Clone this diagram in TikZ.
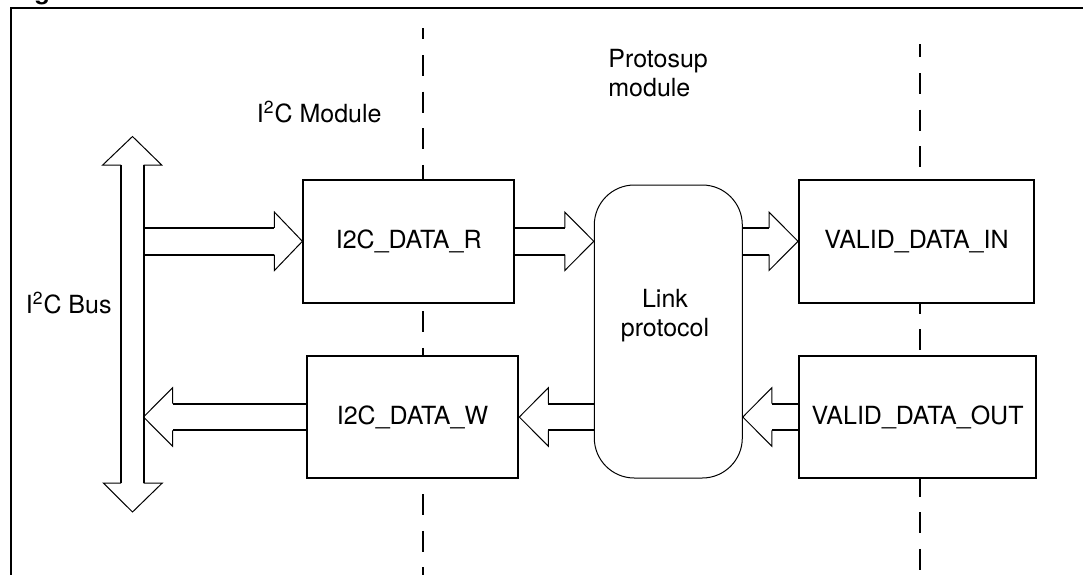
\documentclass[tikz,border=0pt]{standalone}
\usepackage{fontspec}
\setmainfont{TeX Gyre Heros}
\usetikzlibrary{calc}
\tikzset{
  box/.style={draw, line width=1pt, fill=white, inner sep=0pt},
  link/.style={draw, line width=0.5pt, fill=white, rounded corners=20pt, inner sep=0pt},
  lbl/.style={font=\fontsize{12.5}{14.6}\selectfont, inner sep=0pt},
  shaft/.style={line width=1pt},
  head/.style={line width=0.5pt, line join=miter},
  divider/.style={line width=1pt, dash pattern=on 10.5pt off 7.8pt},
  frame/.style={line width=1pt},
}
% horizontal fat arrow: #1 start point, #2 tip point, #3 signed head length
\newcommand\fatarrow[3]{%
  \draw[shaft] let \p1=#1, \p2=#2 in
    ({\x1},{\y2+6.7pt}) -- ({\x2-(#3)},{\y2+6.7pt})
    ({\x1},{\y2-6.7pt}) -- ({\x2-(#3)},{\y2-6.7pt});
  \draw[head] let \p2=#2 in
    ({\x2-(#3)},{\y2+6.7pt}) -- ({\x2-(#3)},{\y2+14.6pt}) -- (\p2)
    -- ({\x2-(#3)},{\y2-14.6pt}) -- ({\x2-(#3)},{\y2-6.7pt});
}
\begin{document}
\begin{tikzpicture}[x=0.5pt,y=-0.5pt]
\useasboundingbox (0,0) rectangle (1083,574);
\clip (0,0) rectangle (1083,574);
% caption fragment and frame
\node[lbl, font=\fontsize{12.5}{12}\selectfont\bfseries, anchor=base west] (cap) at (12,-1) {Figure};
\draw[frame] (10.5,590) -- (10.5,8.3) -- (1100,8.3);
% dividers
\coordinate (d1t) at (422.7,28);
\coordinate (d1b) at (422.7,590);
\coordinate (d2t) at (920,44);
\coordinate (d2b) at (920,590);
\draw[divider, dash phase=4.8pt] (d1t) -- (d1b);
\draw[divider, dash phase=3.8pt] (d2t) -- (d2b);
% labels
\node[lbl, anchor=base east] (i2cmod) at (382,122) {I\textsuperscript{2}C Module};
\node[lbl, anchor=base west, align=left] (proto) at (608,96.5) {Protosup\\module};
\node[lbl, anchor=base east] (busl) at (112,313) {I\textsuperscript{2}C Bus};
% boxes
\node[box, lbl, draw, minimum width=105.3pt, minimum height=61.3pt] (R) at (408.7,241.3) {I2C\_DATA\_R};
\node[box, lbl, draw, minimum width=105.8pt, minimum height=61pt] (W) at (412.5,417) {I2C\_DATA\_W};
\node[box, lbl, draw, minimum width=117.5pt, minimum height=61.3pt] (VIN) at (916.5,241.3) {VALID\_DATA\_IN};
\node[box, lbl, draw, minimum width=118.5pt, minimum height=61pt] (VOUT) at (917.5,417) {VALID\_DATA\_OUT};
\node[link, minimum width=74pt, minimum height=146.5pt] (L) at (668.3,331.5) {};
\node[lbl, align=center] (Ltxt) at (665,316) {Link\\protocol};
% I2C bus double arrow
\coordinate (busT) at (132.5,136.5);
\coordinate (busB) at (132.5,512);
\coordinate (busR) at (143.5,324);
\draw[shaft] (121,165) -- (121,483) (143.5,165) -- (143.5,483);
\draw[head] (121,165) -- (102.7,165) -- (busT) -- (161.7,165) -- (143.5,165);
\draw[head] (121,483) -- (103.3,483) -- (busB) -- (162.3,483) -- (143.5,483);
% data arrows
\fatarrow{(busR)}{(R.west)}{14pt}
\fatarrow{(R.east)}{(R.east -| L.west)}{14.5pt}
\fatarrow{(L.east |- VIN.west)}{(VIN.west)}{14.5pt}
\fatarrow{(VOUT.west)}{(L.east |- VOUT.west)}{-14.5pt}
\fatarrow{(L.west |- W.east)}{(W.east)}{-14.5pt}
\fatarrow{(W.west)}{(busR |- W.west)}{-14.5pt}
\end{tikzpicture}
\end{document}
